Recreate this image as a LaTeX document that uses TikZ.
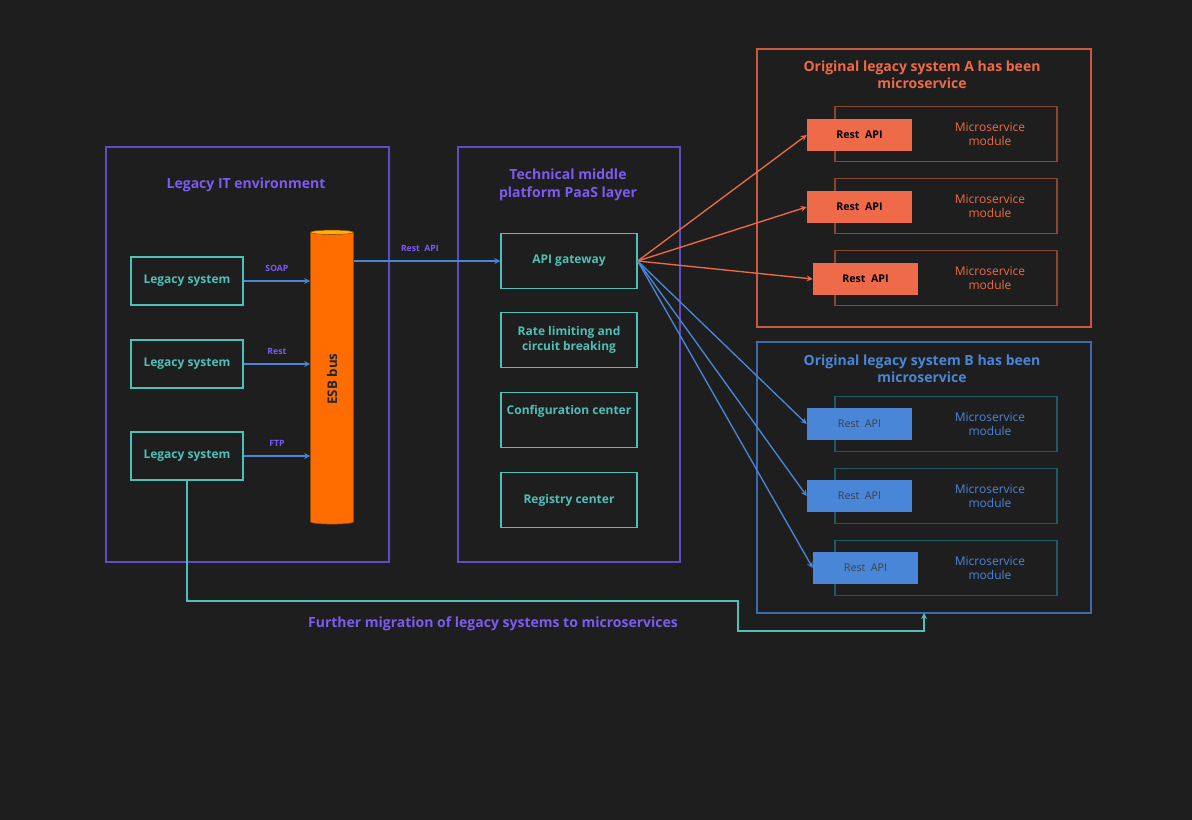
\documentclass[tikz,border=0pt]{standalone}
\usepackage{fontspec}
\setmainfont{Open Sans}
\usetikzlibrary{shapes.geometric}
\definecolor{bgc}{HTML}{1E1E1E}
\definecolor{purp}{HTML}{7B5CF0}
\definecolor{teal}{HTML}{4FC0B8}
\definecolor{orng}{HTML}{EE6A48}
\definecolor{blu}{HTML}{4A86D8}
\definecolor{modA}{HTML}{8A4630}
\definecolor{modB}{HTML}{1E5A63}
\tikzset{
  sys/.style={draw=teal,line width=1pt,text=teal,font=\bfseries\fontsize{9}{11}\selectfont,align=center},
  lbl/.style={text=purp,font=\bfseries\fontsize{6.5}{7}\selectfont},
  api/.style={minimum width=78.75pt,minimum height=24pt,inner sep=0pt,font=\fontsize{8}{9}\selectfont},
  mod/.style={minimum width=166.5pt,minimum height=41.25pt,line width=0.8pt},
  modtxt/.style={font=\fontsize{9}{11}\selectfont,align=center},
  arr/.style={-stealth,line width=1pt},
}
\begin{document}
\begin{tikzpicture}[x=0.75pt,y=-0.75pt]
\fill[bgc] (0,0) rectangle (1192,820);
\useasboundingbox (0,0) rectangle (1192,820);
% frames
\draw[purp!80!black,line width=0.8pt] (106,147) rectangle (389,562);
\draw[purp!80!black,line width=0.8pt] (458,147) rectangle (680,562);
\draw[orng!85!black,line width=0.8pt] (757,49) rectangle (1091,327);
\draw[blu!80!black,line width=0.8pt] (757,342) rectangle (1091,613);
\node[text=purp,font=\bfseries\fontsize{10.5}{12}\selectfont] at (246,185) {Legacy IT environment};
\node[text=purp,font=\bfseries\fontsize{10.5}{13}\selectfont,align=center] at (568,185) {Technical middle\\platform PaaS layer};
\node[text=orng,font=\bfseries\fontsize{10.5}{13}\selectfont,align=center] at (922,75) {Original legacy system A has been\\microservice};
\node[text=blu,font=\bfseries\fontsize{10.5}{13}\selectfont,align=center] at (922,369) {Original legacy system B has been\\microservice};
% legacy side
\node[sys,minimum width=84pt,minimum height=36pt] (ls1) at (187,281) {Legacy system};
\node[sys,minimum width=84pt,minimum height=36pt] (ls2) at (187,364) {Legacy system};
\node[sys,minimum width=84pt,minimum height=36pt] (ls3) at (187,456) {Legacy system};
\node[cylinder,shape border rotate=90,aspect=0.5,minimum width=32.25pt,minimum height=220.5pt,
  cylinder uses custom fill,cylinder body fill=orange!85!red,cylinder end fill=orange!60!yellow,
  draw=orange!60!black,line width=0.4pt] (esb) at (332,379) {};
\node[rotate=90,font=\bfseries\fontsize{10}{11}\selectfont,text=black!85] at (332,379) {ESB bus};
\draw[arr,blu] (ls1.east) -- (ls1.east -| esb.west) node[lbl,midway,above=3pt] {SOAP};
\draw[arr,blu] (ls2.east) -- (ls2.east -| esb.west) node[lbl,midway,above=3pt] {Rest};
\draw[arr,blu] (ls3.east) -- (ls3.east -| esb.west) node[lbl,midway,above=3pt] {FTP};
% paas layer
\node[sys,minimum width=102pt,minimum height=41.25pt] (gw) at (569,261) {API gateway};
\node[sys,minimum width=102pt,minimum height=41.25pt] (rate) at (569,340) {Rate limiting and\\circuit breaking};
\node[sys,minimum width=102pt,minimum height=41.25pt] (conf) at (569,420) {};
\node[text=teal,font=\bfseries\fontsize{9}{11}\selectfont] at (569,411) {Configuration center};
\node[sys,minimum width=102pt,minimum height=41.25pt] (reg) at (569,500) {Registry center};
\coordinate (esbout) at (354,261);
\draw[arr,blu] (esbout) -- (gw.west) node[lbl,pos=0.45,above=3pt] {Rest\ \ API};
% microservices A
\foreach \i/\y/\dx in {1/134/0,2/206/0,3/278/6}{
  \node[mod,draw=modA] (ma\i) at (946,\y) {};
  \node[modtxt,text=orng] at (990,\y) {Microservice\\module};
  \node[api,fill=orng,text=black,font=\bfseries\fontsize{8}{9}\selectfont] (ra\i) at (859.5+\dx,\y+1) {Rest\ \ API};
  \draw[arr,orng] (gw.east) -- (ra\i.west);
}
% microservices B
\foreach \i/\y/\dx in {1/424/0,2/496/0,3/568/6}{
  \node[mod,draw=modB] (mb\i) at (946,\y) {};
  \node[modtxt,text=blu] at (990,\y) {Microservice\\module};
  \node[api,fill=blu,text=black!75] (rb\i) at (859.5+\dx,\y) {Rest\ \ API};
  \draw[arr,blu] (gw.east) -- (rb\i.west);
}
% migration
\coordinate (bbot) at (924,613);
\draw[arr,teal] (ls3.south) |- (738,601) |- (924,631) -- (bbot);
\node[text=purp,font=\bfseries\fontsize{10.5}{12}\selectfont] at (493,624) {Further migration of legacy systems to microservices};
\end{tikzpicture}
\end{document}
